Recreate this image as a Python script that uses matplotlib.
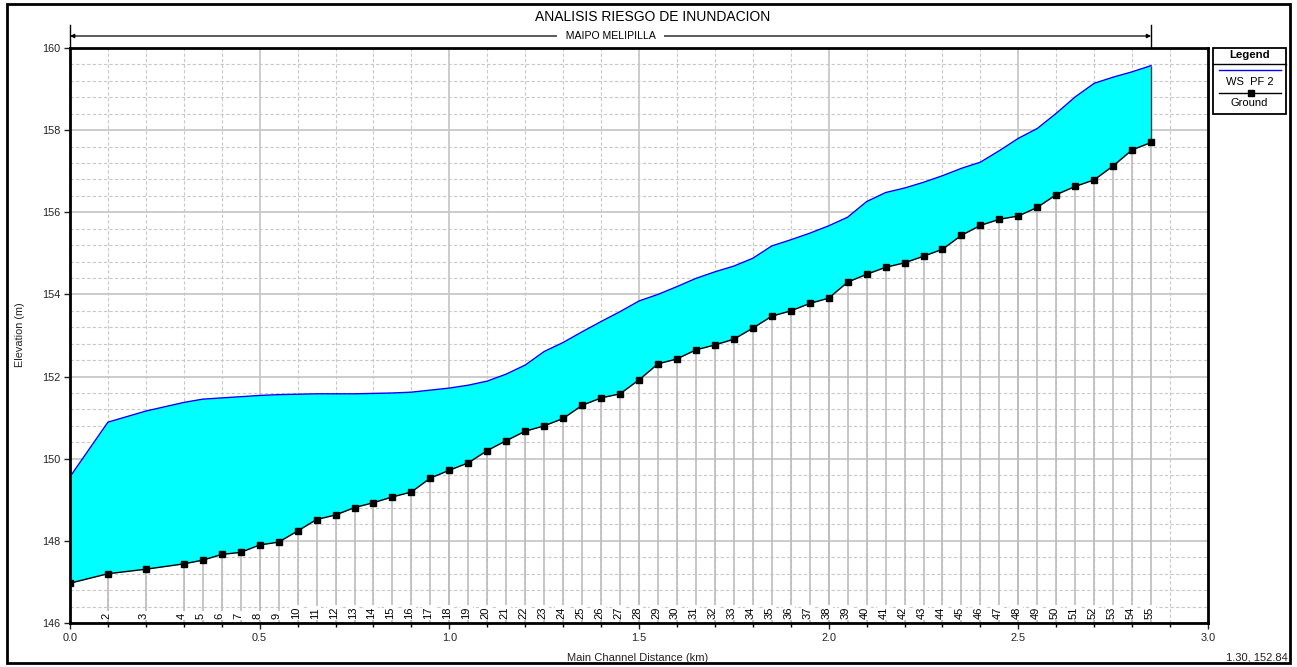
import matplotlib
matplotlib.use("Agg")
import matplotlib.pyplot as plt
from matplotlib.lines import Line2D
from matplotlib.patches import Rectangle
from matplotlib.ticker import MultipleLocator
import matplotlib.transforms as mtransforms

plt.rcParams['font.family'] = ['Liberation Sans', 'DejaVu Sans']

# ---- data -------------------------------------------------------------
station_labels = [str(i) for i in range(1, 56)]

dist_km = [0.00, 0.10, 0.20, 0.30, 0.35, 0.40, 0.45, 0.50, 0.55, 0.60,
           0.65, 0.70, 0.75, 0.80, 0.85, 0.90, 0.95, 1.00, 1.05, 1.10,
           1.15, 1.20, 1.25, 1.30, 1.35, 1.40, 1.45, 1.50, 1.55, 1.60,
           1.65, 1.70, 1.75, 1.80, 1.85, 1.90, 1.95, 2.00, 2.05, 2.10,
           2.15, 2.20, 2.25, 2.30, 2.35, 2.40, 2.45, 2.50, 2.55, 2.60,
           2.65, 2.70, 2.75, 2.80, 2.85]

ground = [146.97, 147.20, 147.31, 147.44, 147.53, 147.67, 147.72, 147.90, 147.97, 148.24,
          148.52, 148.63, 148.81, 148.93, 149.07, 149.19, 149.53, 149.72, 149.90, 150.20,
          150.44, 150.67, 150.80, 150.98, 151.30, 151.48, 151.58, 151.92, 152.31, 152.43,
          152.65, 152.77, 152.91, 153.18, 153.47, 153.60, 153.78, 153.91, 154.30, 154.49,
          154.66, 154.77, 154.93, 155.10, 155.44, 155.68, 155.83, 155.91, 156.12, 156.43,
          156.63, 156.79, 157.13, 157.52, 157.70]

ws_pf2 = [149.56, 150.89, 151.16, 151.37, 151.45, 151.48, 151.51, 151.54, 151.56, 151.57,
          151.58, 151.58, 151.58, 151.59, 151.60, 151.62, 151.67, 151.72, 151.79, 151.89,
          152.06, 152.28, 152.61, 152.83, 153.09, 153.34, 153.58, 153.84, 154.00, 154.19,
          154.39, 154.55, 154.69, 154.88, 155.18, 155.33, 155.49, 155.67, 155.88, 156.26,
          156.48, 156.59, 156.73, 156.89, 157.07, 157.22, 157.50, 157.80, 158.04, 158.41,
          158.81, 159.14, 159.29, 159.42, 159.57]

x_ticks = [0.0, 0.5, 1.0, 1.5, 2.0, 2.5, 3.0]
y_ticks = [146, 148, 150, 152, 154, 156, 158, 160]

title = "ANALISIS RIESGO DE INUNDACION"
reach_name = "MAIPO MELIPILLA"
cursor_text = "1.30, 152.84"

# ---- figure -------------------------------------------------------------
W, H = 1297, 667
fig = plt.figure(figsize=(W / 100, H / 100), dpi=100)
fig.patch.set_facecolor('white')


def fx(px):
    return px / W


def fy(py):
    return 1 - py / H


ax_l, ax_r, ax_t, ax_b = 70, 1208, 48, 623
ax = fig.add_axes([fx(ax_l), fy(ax_b), fx(ax_r - ax_l), (ax_b - ax_t) / H])
ax.set_xlim(0, 3)
ax.set_ylim(146, 160)

ax.set_xticks(x_ticks)
ax.set_xticklabels([f"{v:.1f}" for v in x_ticks])
ax.set_yticks(y_ticks)
ax.xaxis.set_minor_locator(MultipleLocator(0.1))
ax.yaxis.set_minor_locator(MultipleLocator(0.4))

grid_col = '#c8c8c8'
ax.grid(which='major', color=grid_col, lw=1.3, ls='-', zorder=0)
ax.grid(which='minor', color=grid_col, lw=0.8, ls=(0, (3, 2)), zorder=0)
ax.set_axisbelow(True)

ax.tick_params(axis='both', which='major', labelsize=7.8, colors='#222222',
               length=4, width=1, direction='out', pad=3)
ax.tick_params(axis='x', which='minor', length=3, width=1, direction='out')
ax.tick_params(axis='y', which='minor', length=0)
for sp in ax.spines.values():
    sp.set_linewidth(2)
    sp.set_color('black')
    sp.set_zorder(10)

# station lines from the ground down to the axis
ax.vlines(dist_km, 146, ground, colors='#bcbcbc', lw=1.2, zorder=1)

# water between ground and water surface
ax.fill_between(dist_km, ground, ws_pf2, color='#00ffff', lw=0, zorder=2)
ax.vlines(dist_km[-1], ground[-1], ws_pf2[-1], colors='#404040', lw=1, zorder=3)
ax.plot(dist_km, ws_pf2, color='#0000ff', lw=1, zorder=4)
ax.plot(dist_km, ground, color='black', lw=1, marker='s', ms=4, zorder=5)

# station numbers along the bottom
for xv, lab in zip(dist_km[1:], station_labels[1:]):
    ax.text(xv - 0.005, 146.1, lab, rotation=90, ha='center', va='bottom',
            fontsize=8, color='black', zorder=6,
            bbox=dict(boxstyle='square,pad=0.12', fc='white', ec='none'))

# ---- reach marker above the plot -----------------------------------------
blend = mtransforms.blended_transform_factory(ax.transData, fig.transFigure)
y_arrow = fy(36)
ax.annotate('', xy=(dist_km[0], y_arrow), xycoords=blend,
            xytext=(dist_km[-1], y_arrow), textcoords=blend,
            arrowprops=dict(arrowstyle='<|-|>', lw=0.9, color='black',
                            mutation_scale=6, shrinkA=0, shrinkB=0),
            annotation_clip=False)
for xv in (dist_km[0], dist_km[-1]):
    fig.add_artist(Line2D([xv, xv], [fy(25), fy(48)], transform=blend,
                          color='black', lw=1))
fig.text((dist_km[0] + dist_km[-1]) / 2, y_arrow, "  " + reach_name + "  ",
         ha='center', va='center', fontsize=7.6, color='black',
         bbox=dict(boxstyle='square,pad=0.25', fc='white', ec='none'),
         transform=blend)

# ---- titles and labels -----------------------------------------------------
fig.text(fx(653), fy(17), title, ha='center', va='center', fontsize=10, color='black')
fig.text(fx(20), fy(335), "Elevation (m)", rotation=90, ha='center', va='center',
         fontsize=7.8, color='#222222')
fig.text(fx(638), fy(661), "Main Channel Distance (km)", ha='center', va='baseline',
         fontsize=8, color='#222222')
fig.text(fx(1288), fy(661), cursor_text, ha='right', va='baseline',
         fontsize=8, color='#222222')

# ---- legend box --------------------------------------------------------------
lx0, lx1, ly0, ly1 = 1213, 1286, 48, 114
fig.add_artist(Rectangle((fx(lx0), fy(ly1)), fx(lx1 - lx0), (ly1 - ly0) / H,
                         transform=fig.transFigure, fill=False, ec='black', lw=1.3))
fig.add_artist(Line2D([fx(lx0), fx(lx1)], [fy(64), fy(64)], transform=fig.transFigure,
                      color='black', lw=1))
fig.text(fx((lx0 + lx1) / 2), fy(55), "Legend", ha='center', va='center',
         fontsize=8.2, fontweight='bold', color='black')
fig.add_artist(Line2D([fx(1219), fx(1281)], [fy(70), fy(70)], transform=fig.transFigure,
                      color='#0000ff', lw=1))
fig.text(fx((lx0 + lx1) / 2), fy(82), "WS  PF 2", ha='center', va='center',
         fontsize=8, color='black')
fig.add_artist(Line2D([fx(1219), fx(1281)], [fy(93), fy(93)], transform=fig.transFigure,
                      color='black', lw=1))
fig.add_artist(Line2D([fx(1251)], [fy(93)], transform=fig.transFigure,
                      color='black', marker='s', ms=4, lw=0))
fig.text(fx((lx0 + lx1) / 2), fy(103), "Ground", ha='center', va='center',
         fontsize=8, color='black')

# ---- outer frame -------------------------------------------------------------
fig.add_artist(Rectangle((fx(7), fy(663)), fx(1290 - 7), (663 - 4) / H,
                         transform=fig.transFigure, fill=False, ec='black', lw=2))

fig.savefig("out.png", dpi=100, facecolor='white')
